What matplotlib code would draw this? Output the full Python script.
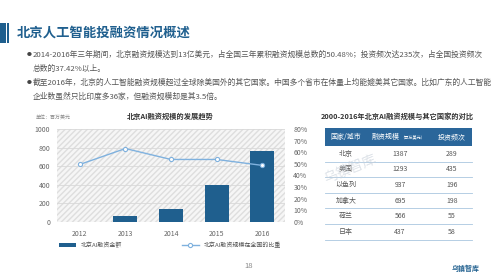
import matplotlib
matplotlib.use("Agg")
import matplotlib.pyplot as plt
from matplotlib.patches import Rectangle
from matplotlib.ticker import FuncFormatter

plt.rcParams['font.family'] = ['Noto Sans CJK SC', 'DejaVu Sans']
plt.rcParams['axes.unicode_minus'] = False

# ========== 数据 ==========
years = ["2012", "2013", "2014", "2015", "2016"]
amount = [2, 65, 145, 395, 765]                 # 百万美元
share = [0.495, 0.632, 0.538, 0.538, 0.487]     # 占全国比重

table_cols = ["国家/城市", "融资规模", "投资频次"]
countries = ["北京", "美国", "以色列", "加拿大", "荷兰", "日本"]
funding = [1387, 1293, 937, 695, 566, 437]
freq = [289, 435, 196, 198, 55, 58]

title = "北京人工智能投融资情况概述"
bullets = [
    ["2014-2016年三年期间，北京融资规模达到13亿美元，占全国三年累积融资规模总数的50.48%；投资频次达235次，占全国投资频次",
     "总数的37.42%以上。"],
    ["截至2016年，北京的人工智能融资规模超过全球除美国外的其它国家。中国多个省市在体量上均能媲美其它国家。比如广东的人工智能",
     "企业数虽然只比印度多36家，但融资规模却是其3.5倍。"],
]

W, H = 499, 279
BLUE = "#1f5f8e"
LINE = "#7fb1de"
GREY = "#555555"


def box(x0, y0, x1, y1):
    return [x0 / W, 1 - y1 / H, (x1 - x0) / W, (y1 - y0) / H]


fig = plt.figure(figsize=(W / 100, H / 100), dpi=100)
fig.patch.set_facecolor("white")

# ========== 页面层（像素坐标） ==========
page = fig.add_axes([0, 0, 1, 1])
page.set_xlim(0, W)
page.set_ylim(H, 0)
page.axis("off")

page.add_patch(Rectangle((0, 23), 6, 20, color=BLUE, lw=0))
page.add_patch(Rectangle((7, 23), 2, 20, color=BLUE, lw=0))
page.text(17, 33, title, fontsize=9.6, fontweight="bold", color=BLUE, va="center")

y = 55
for lines in bullets:
    page.text(27, y, "●", fontsize=3.5, color="#444444", va="center")
    for i, ln in enumerate(lines):
        page.text(33, y + i * 14, ln, fontsize=5.6, color=GREY, va="center")
    y += 28

# 图表标题与单位
page.text(170, 116, "北京AI融资规模的发展趋势", fontsize=5.2, fontweight="bold",
          color="#333333", ha="center", va="center")
page.text(36, 118, "单位：百万美元", fontsize=3.6, color="#888888", va="center")
page.text(249, 266, "18", fontsize=5.5, color="#888888", ha="center", va="center")

# 水印
page.text(185, 170, "乌镇智库", fontsize=11, color="#c8d0da", alpha=0.6,
          rotation=22, ha="center", va="center", zorder=10)
page.text(350, 168, "乌镇智库", fontsize=10, color="#c8d0da", alpha=0.6,
          rotation=22, ha="center", va="center", zorder=10)

# logo
page.text(466, 268, "乌镇智库", fontsize=5, fontweight="bold", color=BLUE,
          ha="center", va="center")

# ========== 柱状 + 折线 ==========
ax = fig.add_axes(box(57, 129, 285, 222))
ax.add_patch(Rectangle((0, 0), 1, 1, transform=ax.transAxes, facecolor="#f6f6f6",
                       edgecolor="#dedede", hatch="//////", lw=0, zorder=0))
x = range(len(years))
ax.bar(x, amount, width=0.53, color=BLUE, zorder=3, label="北京AI融资金额")
ax.set_xlim(-0.5, 4.5)
ax.set_ylim(0, 1000)
ax.set_yticks(range(0, 1001, 200))
ax.set_xticks(list(x))
ax.set_xticklabels(years)
ax.grid(axis="y", color="#d9d9d9", lw=0.6, zorder=1)
ax.set_axisbelow(True)
for s in ax.spines.values():
    s.set_visible(False)
ax.tick_params(length=0, labelsize=5, colors="#666666")
ax.tick_params(axis="x", pad=6)
ax.tick_params(axis="y", pad=5)

ax2 = ax.twinx()
ax2.plot(x, share, color=LINE, lw=1, marker="o", ms=3, mfc="white", mec=LINE,
         mew=0.8, zorder=5, label="北京AI融资规模在全国的比重")
ax2.set_ylim(0, 0.8)
ax2.set_yticks([i / 10 for i in range(9)])
ax2.yaxis.set_major_formatter(FuncFormatter(lambda v, _: f"{v * 100:.0f}%"))
for s in ax2.spines.values():
    s.set_visible(False)
ax2.tick_params(length=0, labelsize=5, colors="#666666", pad=6)

h1, l1 = ax.get_legend_handles_labels()
h2, l2 = ax2.get_legend_handles_labels()
fig.legend(h1 + h2, l1 + l2, loc="center", bbox_to_anchor=(170 / W, 1 - 245 / H),
           ncol=2, frameon=False, fontsize=4.3, columnspacing=10,
           handlelength=2.8, handleheight=0.6, labelcolor="#555555")

# ========== 表格 ==========
page.text(397, 116, "2000-2016年北京AI融资规模与其它国家的对比", fontsize=5.2,
          fontweight="bold", color="#333333", ha="center", va="center")
page.add_patch(Rectangle((325, 128), 147, 18, color="#2a669a", lw=0))
col_x = [346, 400, 452]
page.text(col_x[0], 137, table_cols[0], fontsize=5, color="white", ha="center", va="center")
page.text(col_x[1], 137, table_cols[1], fontsize=5, color="white", ha="right", va="center")
page.text(col_x[1] + 0.5, 137.5, "（百万美元）", fontsize=3, color="white", ha="left", va="center")
page.text(col_x[2], 137, table_cols[2], fontsize=5, color="white", ha="center", va="center")

row_y0, row_h = 146, 15.6
for i, (c, f, n) in enumerate(zip(countries, funding, freq)):
    cy = row_y0 + row_h * (i + 0.5)
    page.text(col_x[0], cy, c, fontsize=5, color=GREY, ha="center", va="center")
    page.text(col_x[1], cy, str(f), fontsize=5, color=GREY, ha="center", va="center")
    page.text(col_x[2], cy, str(n), fontsize=5, color=GREY, ha="center", va="center")
    page.plot([325, 472], [row_y0 + row_h * (i + 1)] * 2, color="#a9c6df", lw=0.6)

fig.savefig("out.png", dpi=100)
